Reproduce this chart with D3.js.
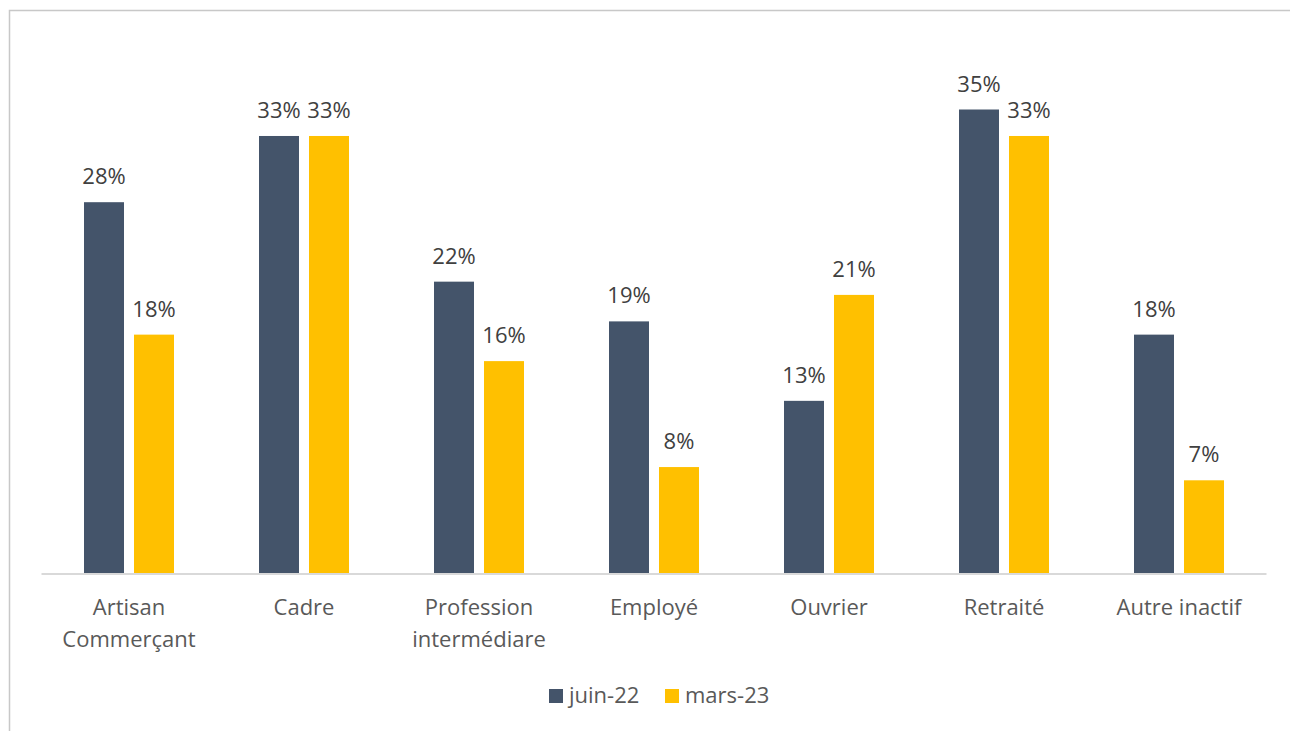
<!DOCTYPE html>
<html>
<head>
<meta charset="utf-8">
<script src="https://cdn.jsdelivr.net/npm/d3@7"></script>
<style>
  body { margin: 0; background: #fff; }
  text { font-family: "Open Sans", "Noto Sans", sans-serif; }
</style>
</head>
<body>
<script>
const width = 1290;
const height = 731;

// Data
const categories = [["Artisan", "Commerçant"], ["Cadre"], ["Profession", "intermédiare"], ["Employé"], ["Ouvrier"], ["Retraité"], ["Autre inactif"]];
const seriesNames = ["juin-22", "mars-23"];
const juin22 = [0.28, 0.33, 0.22, 0.19, 0.13, 0.35, 0.18];
const mars23 = [0.18, 0.33, 0.16, 0.08, 0.21, 0.33, 0.07];
const colors = ["#44546A", "#FFC000"];

const svg = d3.select("body").append("svg").attr("width", width).attr("height", height);

// Chart frame
svg.append("rect")
  .attr("x", 9.5).attr("y", 10.5)
  .attr("width", width + 10).attr("height", height + 10)
  .attr("fill", "#fff")
  .attr("stroke", "#c8c8c8")
  .attr("stroke-width", 1.5);

const baseY = 573;
const x0 = d3.scaleBand()
  .domain(d3.range(categories.length))
  .range([41.5, 1266.5]);

// two bars of 40px with a 10px gap, centred on the category
const x1 = d3.scaleBand()
  .domain([0, 1])
  .range([-45, 45])
  .paddingInner(0.2);

const y = d3.scaleLinear()
  .domain([0, 0.35])
  .range([baseY, baseY - 463.5]);

const data = categories.map((c, i) => ({ i, values: [juin22[i], mars23[i]] }));

const groups = svg.selectAll("g.cat")
  .data(data)
  .join("g")
  .attr("class", "cat")
  .attr("transform", (d) => `translate(${x0(d.i) + x0.bandwidth() / 2},0)`);

groups.selectAll("rect")
  .data((d) => d.values.map((v, s) => ({ v, s })))
  .join("rect")
  .attr("x", (d) => x1(d.s))
  .attr("width", x1.bandwidth())
  .attr("y", (d) => y(d.v))
  .attr("height", (d) => baseY - y(d.v))
  .attr("fill", (d) => colors[d.s]);

groups.selectAll("text.lbl")
  .data((d) => d.values.map((v, s) => ({ v, s })))
  .join("text")
  .attr("class", "lbl")
  .attr("x", (d) => x1(d.s) + x1.bandwidth() / 2)
  .attr("y", (d) => y(d.v) - 18)
  .attr("text-anchor", "middle")
  .attr("font-size", 22)
  .attr("fill", "#404040")
  .text((d) => d3.format(".0%")(d.v));

// Axis line
svg.append("line")
  .attr("x1", x0.range()[0]).attr("x2", x0.range()[1])
  .attr("y1", baseY + 1).attr("y2", baseY + 1)
  .attr("stroke", "#d9d9d9")
  .attr("stroke-width", 2);

// Category labels
groups.append("text")
  .attr("text-anchor", "middle")
  .attr("font-size", 22)
  .attr("fill", "#595959")
  .selectAll("tspan")
  .data((d) => categories[d.i])
  .join("tspan")
  .attr("x", 0)
  .attr("y", (d, k) => 615 + k * 32)
  .text((d) => d);

// Legend
const legendX = [549, 665];
const legend = svg.selectAll("g.leg")
  .data(seriesNames)
  .join("g")
  .attr("class", "leg")
  .attr("transform", (d, i) => `translate(${legendX[i]},689)`);

legend.append("rect")
  .attr("width", 14).attr("height", 14)
  .attr("fill", (d, i) => colors[i]);

legend.append("text")
  .attr("x", 20).attr("y", 14)
  .attr("font-size", 22)
  .attr("fill", "#595959")
  .text((d) => d);
</script>
</body>
</html>
